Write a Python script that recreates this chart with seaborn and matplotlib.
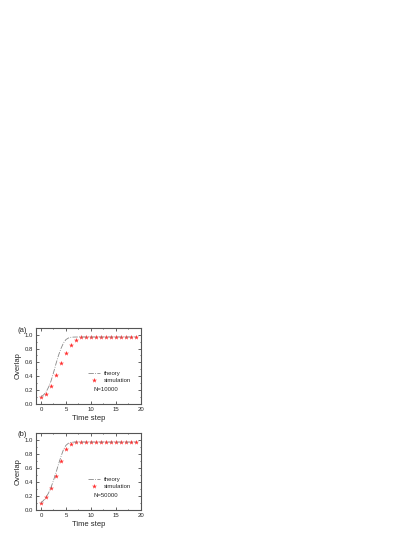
import matplotlib
matplotlib.use("Agg")
import matplotlib.pyplot as plt
import seaborn as sns
import numpy as np
import pandas as pd
from matplotlib.ticker import MultipleLocator

sns.set_theme(style="ticks")
plt.rcParams['font.family'] = ['Liberation Sans', 'DejaVu Sans']

time_steps = list(range(20))
sim_a = [0.10, 0.145, 0.26, 0.42, 0.585, 0.735, 0.855, 0.93, 0.963, 0.965,
         0.965, 0.965, 0.965, 0.965, 0.965, 0.965, 0.965, 0.965, 0.965, 0.965]
theory_x = [0, 0.5, 1, 1.5, 2, 2.5, 3, 3.5, 4, 4.5, 5, 5.5, 6, 6.5, 7, 8, 10, 15, 19]
theory_a = [0.10, 0.13, 0.17, 0.24, 0.33, 0.45, 0.58, 0.70, 0.80, 0.88, 0.93, 0.952, 0.962, 0.965, 0.966, 0.966, 0.966, 0.966, 0.966]
sim_b = [0.10, 0.18, 0.31, 0.49, 0.70, 0.87, 0.94, 0.962, 0.965, 0.965,
         0.965, 0.965, 0.965, 0.965, 0.965, 0.965, 0.965, 0.965, 0.965, 0.965]
theory_b = [0.10, 0.135, 0.18, 0.24, 0.32, 0.42, 0.53, 0.65, 0.76, 0.86, 0.92, 0.95, 0.962, 0.965, 0.966, 0.966, 0.966, 0.966, 0.966]
panel_labels = ["(a)", "(b)"]
n_labels = ["N=10000", "N=50000"]

fig = plt.figure(figsize=(4.15, 5.37), dpi=100)
positions = [[0.0867, 0.2477, 0.253, 0.142], [0.0867, 0.0503, 0.253, 0.144]]
sims = [sim_a, sim_b]
theories = [theory_a, theory_b]

for i in range(2):
    ax = fig.add_axes(positions[i])
    dft = pd.DataFrame({"t": theory_x, "v": theories[i]})
    dfs = pd.DataFrame({"t": time_steps, "v": sims[i]})
    sns.lineplot(data=dft, x="t", y="v", ax=ax, color="#888888", lw=0.6,
                 linestyle="-.", label="theory")
    sns.scatterplot(data=dfs, x="t", y="v", ax=ax, color="#ff3030", marker="*",
                    s=14, linewidth=0, label="simulation")
    ax.set_xlim(-1, 20)
    ax.set_ylim(0, 1.1)
    ax.xaxis.set_major_locator(MultipleLocator(5))
    ax.xaxis.set_minor_locator(MultipleLocator(2.5))
    ax.yaxis.set_major_locator(MultipleLocator(0.2))
    ax.yaxis.set_minor_locator(MultipleLocator(0.1))
    ax.tick_params(axis='both', which='both', direction='in', top=True, right=True,
                   labelsize=4.3, width=0.5, pad=2)
    ax.tick_params(which='major', length=2)
    ax.tick_params(which='minor', length=1)
    for sp in ax.spines.values():
        sp.set_linewidth(0.8)
        sp.set_color("#555555")
    ax.set_xlabel("Time step", fontsize=5.5, labelpad=2)
    ax.set_ylabel("Overlap", fontsize=5.5, labelpad=2)
    leg = ax.legend(loc="lower right", bbox_to_anchor=(0.95, 0.22), frameon=False,
                    fontsize=4.3, handlelength=2, labelspacing=0.3, borderpad=0.2)
    ax.text(0.55, 0.17, n_labels[i], transform=ax.transAxes, fontsize=4.3)
    ax.text(-0.18, 0.97, panel_labels[i], transform=ax.transAxes, fontsize=5.5, va="center")

fig.savefig("out.png", dpi=100)
